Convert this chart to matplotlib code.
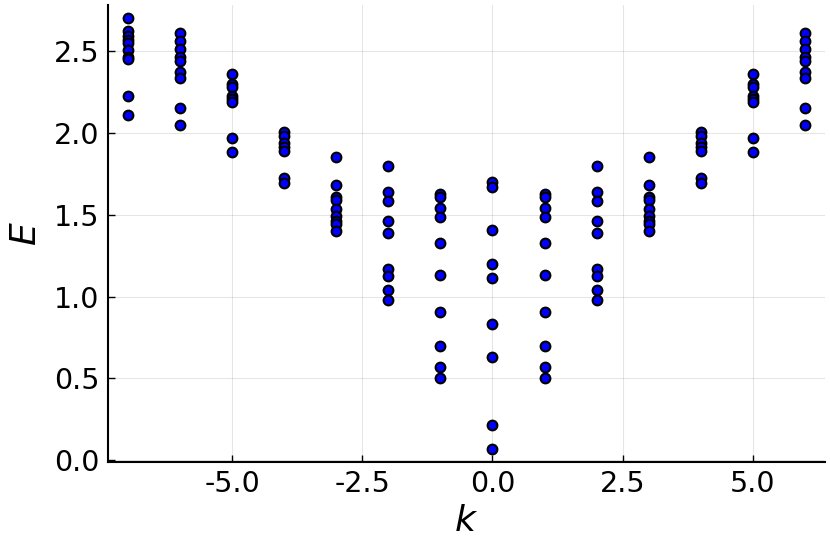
import numpy as np
import matplotlib
matplotlib.use('Agg')
import matplotlib.pyplot as plt

# ── Niveaux d'énergie, par valeur de k ───────────────────────────────
k_values = [-7, -6, -5, -4, -3, -2, -1, 0, 1, 2, 3, 4, 5, 6]

E_m7 = [2.70, 2.62, 2.59, 2.565, 2.545, 2.505, 2.46, 2.45, 2.225, 2.11]
E_6  = [2.61, 2.56, 2.51, 2.46, 2.44, 2.37, 2.335, 2.15, 2.045]
E_5  = [2.355, 2.295, 2.28, 2.225, 2.205, 2.185, 1.965, 1.88]
E_4  = [2.005, 1.98, 1.935, 1.91, 1.885, 1.725, 1.695]
E_3  = [1.85, 1.68, 1.605, 1.59, 1.537, 1.49, 1.462, 1.44, 1.40]
E_2  = [1.797, 1.64, 1.583, 1.46, 1.386, 1.17, 1.126, 1.038, 0.977]
E_1  = [1.624, 1.608, 1.538, 1.488, 1.329, 1.132, 0.906, 0.699, 0.571, 0.502]
E_0  = [1.699, 1.671, 1.404, 1.197, 1.116, 0.833, 0.628, 0.215, 0.069]

levels = {
    -7: E_m7, -6: E_6, -5: E_5, -4: E_4, -3: E_3, -2: E_2, -1: E_1,
    0: E_0, 1: E_1, 2: E_2, 3: E_3, 4: E_4, 5: E_5, 6: E_6,
}

xs = np.concatenate([[k] * len(levels[k]) for k in k_values])
ys = np.concatenate([levels[k] for k in k_values])

# ── Figure ────────────────────────────────────────────────────────────
fig = plt.figure(figsize=(8.3, 5.54), dpi=100)
ax = fig.add_axes([0.130, 0.166, 0.864, 0.825])

ax.plot(xs, ys, linestyle='none', marker='o', markersize=7,
        markerfacecolor='#0000ff', markeredgecolor='black',
        markeredgewidth=1.5, zorder=3)

# marges de 3 % comme Plots.jl
dx = (xs.max() - xs.min()) * 0.03
dy = (ys.max() - ys.min()) * 0.03
ax.set_xlim(xs.min() - dx, xs.max() + dx)
ax.set_ylim(ys.min() - dy, ys.max() + dy)

ax.set_xticks([-5.0, -2.5, 0.0, 2.5, 5.0])
ax.set_xticklabels(['-5.0', '-2.5', '0.0', '2.5', '5.0'])
ax.set_yticks([0.0, 0.5, 1.0, 1.5, 2.0, 2.5])
ax.set_yticklabels(['0.0', '0.5', '1.0', '1.5', '2.0', '2.5'])

ax.grid(True, color='black', alpha=0.1, linewidth=0.8)
ax.set_axisbelow(True)
for side in ('top', 'right'):
    ax.spines[side].set_visible(False)
for side in ('left', 'bottom'):
    ax.spines[side].set_linewidth(1.5)

ax.tick_params(direction='in', length=5, width=1, labelsize=20.5,
               top=False, right=False, pad=6)

ax.set_xlabel('$k$', fontsize=26, labelpad=4)
ax.set_ylabel('$E$', fontsize=26, labelpad=8)

plt.savefig('out.png', dpi=100)
plt.close()
